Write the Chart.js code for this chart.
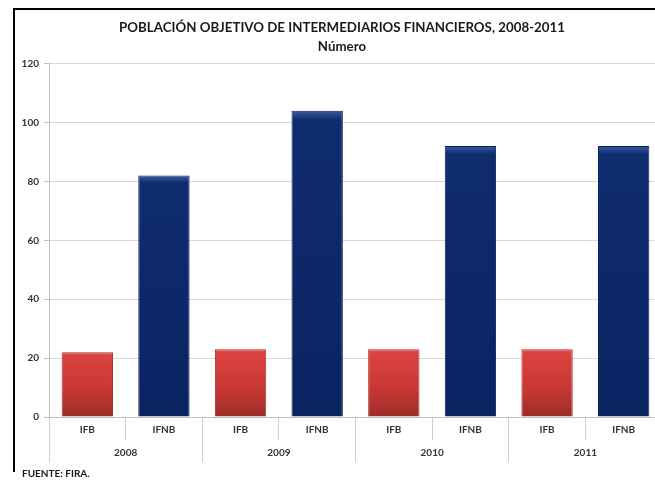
<!DOCTYPE html>
<html>
<head>
<meta charset="utf-8">
<script src="https://cdn.jsdelivr.net/npm/chart.js@4/dist/chart.umd.min.js"></script>
<style>
  html, body { margin: 0; padding: 0; background: #fff; overflow: hidden; width: 655px; height: 483px; }
  #wrap { position: absolute; left: 0; top: 0; width: 680px; height: 483px; }
  #frame { position: absolute; left: 13px; top: 8px; width: 700px; height: 462px; border-left: 2px solid #000; border-top: 2px solid #000; pointer-events: none; }
  #src { position: absolute; left: 22px; top: 467px; font: bold 10px Lato, "Liberation Sans", sans-serif; color: #1a1a1a; }
</style>
</head>
<body>
<div id="wrap"><canvas id="c" width="680" height="483"></canvas></div>
<div id="frame"></div>
<div id="src">FUENTE: FIRA.</div>
<script>
const titleLines = ['POBLACIÓN OBJETIVO DE INTERMEDIARIOS FINANCIEROS, 2008-2011', 'Número'];
const years = ['2008', '2009', '2010', '2011'];
const groups = ['IFB', 'IFNB'];
const ifbValues = [22, 23, 23, 23];
const ifnbValues = [82, 104, 92, 92];
const yTicks = [0, 20, 40, 60, 80, 100, 120];

const labels = [];
const values = [];
const kinds = [];
years.forEach((y, i) => {
  labels.push(groups[0]); values.push(ifbValues[i]); kinds.push(0);
  labels.push(groups[1]); values.push(ifnbValues[i]); kinds.push(1);
});

function barFill(ctx) {
  const chart = ctx.chart;
  const kind = kinds[ctx.dataIndex];
  if (!chart.chartArea || !chart.scales.y) return kind === 0 ? '#c83a36' : '#0c2868';
  const yTop = chart.scales.y.getPixelForValue(values[ctx.dataIndex]);
  const yBot = chart.scales.y.getPixelForValue(0);
  const g = chart.ctx.createLinearGradient(0, yTop, 0, yBot);
  if (kind === 0) {
    g.addColorStop(0, '#e85a55');
    g.addColorStop(0.04, '#dc433f');
    g.addColorStop(0.6, '#c63733');
    g.addColorStop(1, '#9c2c29');
  } else {
    g.addColorStop(0, '#3a5a9c');
    g.addColorStop(0.03, '#0f2c6e');
    g.addColorStop(1, '#0a2462');
  }
  return g;
}

const FONT = 'Lato, "Liberation Sans", sans-serif';

new Chart(document.getElementById('c'), {
  type: 'bar',
  data: {
    labels: labels,
    datasets: [{
      data: values,
      backgroundColor: barFill,
      borderColor: (ctx) => kinds[ctx.dataIndex] === 0 ? '#a8302d' : '#08205a',
      borderWidth: 1,
      barPercentage: 0.67,
      categoryPercentage: 1.0,
      xAxisID: 'x'
    }]
  },
  options: {
    responsive: false,
    animation: false,
    events: [],
    layout: { padding: { left: 22, right: 18, top: 0, bottom: 18 } },
    plugins: {
      legend: { display: false },
      tooltip: { enabled: false },
      title: {
        display: true,
        text: titleLines,
        color: '#1a1a1a',
        font: { family: FONT, size: 13.3, weight: 'bold', lineHeight: 1.45 },
        padding: { top: 18, bottom: 7 }
      }
    },
    scales: {
      y: {
        min: 0, max: 120,
        afterBuildTicks: (s) => { s.ticks = yTicks.map(v => ({ value: v })); },
        afterFit: (s) => { s.width = 27; },
        ticks: { color: '#333', font: { family: FONT, size: 10, weight: 'bold' }, padding: 5 },
        grid: { color: '#d9d9d9', tickLength: 5, tickColor: '#bfbfbf' },
        border: { display: true, color: '#bfbfbf' }
      },
      x: {
        position: 'bottom',
        weight: 1,
        afterFit: (s) => { s.height = 23; },
        ticks: { color: '#333', font: { family: FONT, size: 10, weight: 'bold' }, padding: -16, maxRotation: 0, autoSkip: false },
        grid: { drawOnChartArea: false, offset: true, tickLength: 23, color: '#cfcfcf' },
        border: { display: true, color: '#bfbfbf' }
      },
      x2: {
        type: 'category',
        labels: years,
        position: 'bottom',
        weight: 2,
        offset: true,
        afterFit: (s) => { s.height = 25; },
        ticks: { color: '#333', font: { family: FONT, size: 10, weight: 'bold' }, padding: -15, maxRotation: 0, autoSkip: false },
        grid: { drawOnChartArea: false, offset: true, tickLength: 22, color: '#cfcfcf' },
        border: { display: false }
      }
    }
  }
});
</script>
</body>
</html>
